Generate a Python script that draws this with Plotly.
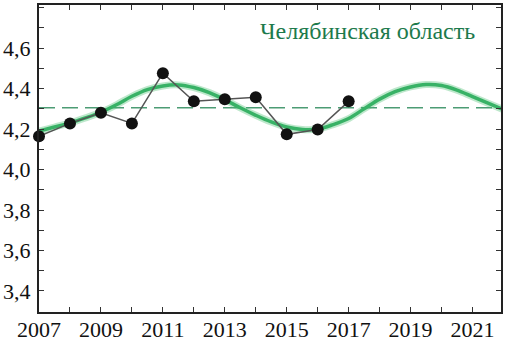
import plotly.graph_objects as go

# Observed values (black points)
years = [2007, 2008, 2009, 2010, 2011, 2012, 2013, 2014, 2015, 2016, 2017]
values = [4.164, 4.228, 4.280, 4.228, 4.476, 4.337, 4.347, 4.357, 4.174, 4.198, 4.337]

# Fitted smooth curve (green)
fit_years = [2007, 2007.5, 2008, 2008.5, 2009, 2009.5, 2010, 2010.5, 2011, 2011.5,
             2012, 2012.5, 2013, 2013.5, 2014, 2014.5, 2015, 2015.5, 2016, 2016.5,
             2017, 2017.5, 2018, 2018.5, 2019, 2019.5, 2020, 2020.5, 2021, 2021.5, 2022]
fit_values = [4.190, 4.210, 4.230, 4.255, 4.283, 4.320, 4.362, 4.395, 4.413, 4.418,
              4.405, 4.380, 4.345, 4.305, 4.268, 4.235, 4.210, 4.198, 4.200, 4.222,
              4.252, 4.300, 4.348, 4.385, 4.408, 4.420, 4.415, 4.392, 4.360, 4.328, 4.296]

mean_level = 4.305

x_tickvals = [2007, 2009, 2011, 2013, 2015, 2017, 2019, 2021]
x_ticktext = ["2007", "2009", "2011", "2013", "2015", "2017", "2019", "2021"]
y_tickvals = [3.4, 3.6, 3.8, 4.0, 4.2, 4.4, 4.6, 4.8]
y_ticktext = ["3,4", "3,6", "3,8", "4,0", "4,2", "4,4", "4,6", "4,8"]

title_text = "Челябинская область"

fig = go.Figure()

# mean dashed line
fig.add_trace(go.Scatter(x=[2007, 2022], y=[mean_level, mean_level], mode="lines",
                         line=dict(color="#4c9c74", width=1.6, dash="16px,7px"),
                         hoverinfo="skip", showlegend=False))
# green glow
fig.add_trace(go.Scatter(x=fit_years, y=fit_values, mode="lines",
                         line=dict(color="rgba(70,190,110,0.35)", width=7, shape="spline"),
                         hoverinfo="skip", showlegend=False))
fig.add_trace(go.Scatter(x=fit_years, y=fit_values, mode="lines",
                         line=dict(color="#38b266", width=3.5, shape="spline"),
                         showlegend=False))
# observed
fig.add_trace(go.Scatter(x=years, y=values, mode="lines+markers",
                         line=dict(color="#555555", width=1.5),
                         marker=dict(color="#111111", size=12, symbol="circle"),
                         showlegend=False, cliponaxis=False))

serif = "Liberation Serif, Times New Roman, serif"

fig.add_annotation(x=2021.15, y=4.685, xref="x", yref="y", text=title_text,
                   showarrow=False, xanchor="right", yanchor="middle",
                   font=dict(family=serif, size=24, color="#1d7a4c"))

x_font = dict(family=serif, size=22, color="#111111")
y_font = dict(family=serif, size=22, color="#111111")

fig.update_xaxes(range=[2007, 2021.92], tickmode="array", tickvals=x_tickvals, ticktext=x_ticktext,
                 ticks="inside", ticklen=5, tickwidth=1, tickcolor="#333",
                 minor=dict(dtick=1, ticks="inside", ticklen=5, tickcolor="#333", tick0=2007),
                 showline=True, linecolor="#222", linewidth=2, mirror="allticks",
                 showgrid=False, zeroline=False, tickfont=x_font, automargin=False,
                 ticklabelstandoff=0)
try:
    fig.update_xaxes(ticklabelstandoff=-3)
except Exception:
    pass
fig.update_yaxes(range=[3.296, 4.813], tickmode="array", tickvals=y_tickvals, ticktext=y_ticktext,
                 ticks="inside", ticklen=5, tickwidth=1, tickcolor="#333",
                 minor=dict(dtick=0.1, ticks="inside", ticklen=5, tickcolor="#333", tick0=3.3),
                 showline=True, linecolor="#222", linewidth=2, mirror="allticks",
                 showgrid=False, zeroline=False, tickfont=y_font, ticklabelstandoff=2,
                 automargin=False)

fig.update_layout(width=505, height=341, margin=dict(l=39, r=4, t=5, b=29),
                  plot_bgcolor="white", paper_bgcolor="white")

fig.write_html("out.html", config={"displayModeBar": False},
               post_script="document.body.style.margin='0';document.body.style.padding='0';")
